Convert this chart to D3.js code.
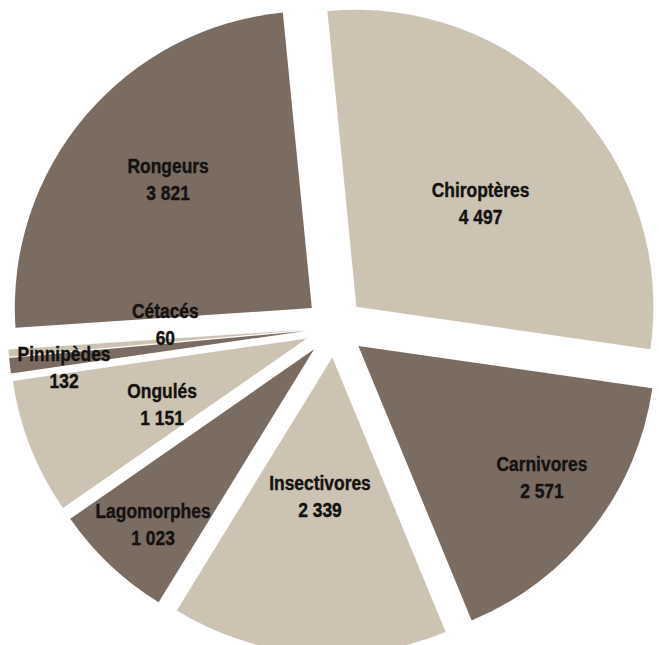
<!DOCTYPE html>
<html><head><meta charset="utf-8">
<script src="https://cdn.jsdelivr.net/npm/d3@7"></script>
<style>
html,body{margin:0;padding:0;background:#fff;}
svg{display:block;}
</style>
</head><body>
<svg id="chart" width="659" height="645"></svg>
<script>
// ---- data ----
const categories = ["Chiroptères","Carnivores","Insectivores","Lagomorphes","Ongulés","Pinnipèdes","Cétacés","Rongeurs"];
const values = [4497, 2571, 2339, 1023, 1151, 132, 60, 3821];
const valueLabels = ["4 497","2 571","2 339","1 023","1 151","132","60","3 821"];

// ---- layout / style ----
const labelRadiusFrac = [0.545, 0.76, 0.47, 0.80, 0.535, 0.82, 0.47, 0.65];
const labelAngleShift = [3.8, -2.3, 0.5, -0.7, -2.9, -1.8, 6.9, 1.6];
const palette = ["#ccc3b2", "#7b6c62"];

const W = 659, H = 645;
const cx = 334.7, cy = 327.5, R = 297, explode = 30;
const deg = Math.PI / 180;
const start = -5.6 * deg;

const svg = d3.select("#chart");
const g = svg.append("g").attr("transform", `translate(${cx},${cy})`);

const pie = d3.pie().sort(null).value(d => d.value)
  .startAngle(start).endAngle(start + 2 * Math.PI);
const arc = d3.arc().innerRadius(0).outerRadius(R);

const data = categories.map((c, i) => ({name: c, value: values[i], label: valueLabels[i], i}));
const arcs = pie(data);

const offset = d => {
  const m = (d.startAngle + d.endAngle) / 2;
  return [explode * Math.sin(m), -explode * Math.cos(m)];
};

g.append("g").selectAll("path").data(arcs).enter().append("path")
  .attr("transform", d => `translate(${offset(d)})`)
  .attr("d", arc)
  .attr("fill", d => palette[d.index % 2]);

const labels = g.append("g").selectAll("text").data(arcs).enter().append("text")
  .attr("text-anchor", "middle")
  .attr("font-family", "'Liberation Sans','Arial',sans-serif")
  .attr("font-weight", "bold")
  .attr("font-size", 20.5)
  .attr("fill", "#141210")
  .attr("stroke", "#141210")
  .attr("stroke-width", 0.4)
  .attr("transform", d => {
    const o = offset(d);
    const m = (d.startAngle + d.endAngle) / 2 + labelAngleShift[d.index] * deg;
    const r = labelRadiusFrac[d.index] * R;
    return `translate(${o[0] + r * Math.sin(m)},${o[1] - r * Math.cos(m)}) scale(0.85,1)`;
  });

labels.append("tspan").attr("x", 0).attr("y", -6.2).text(d => d.data.name);
labels.append("tspan").attr("x", 0).attr("y", 20.8).text(d => d.data.label);
</script>
</body></html>
